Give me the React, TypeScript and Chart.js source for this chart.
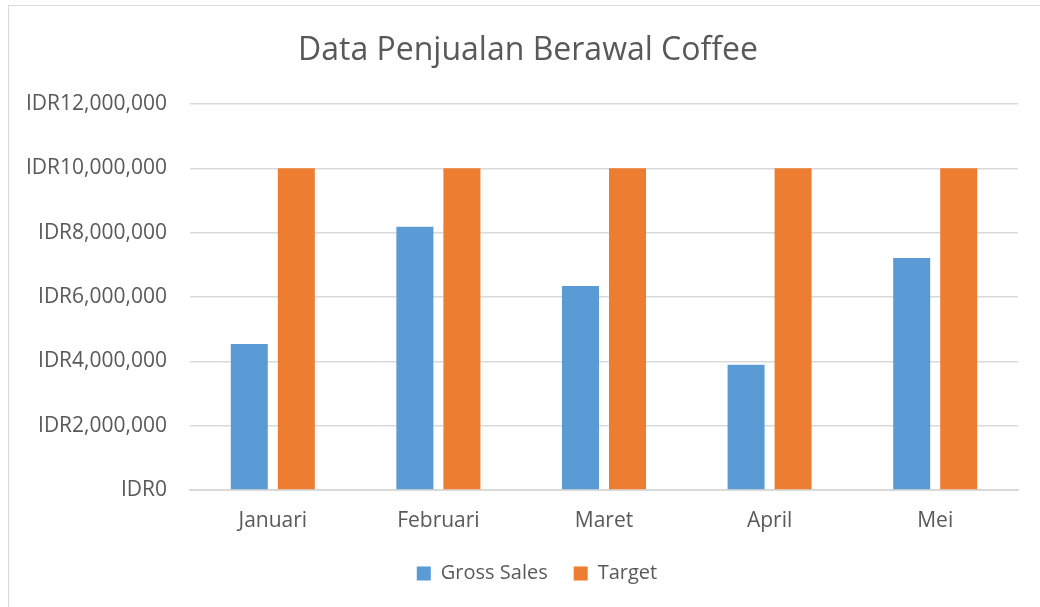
import React, { useEffect, useRef } from "react";
import { Chart, registerables } from "chart.js";

Chart.register(...registerables);

const categories = ["Januari", "Februari", "Maret", "April", "Mei"];
const grossSales = [4540000, 8180000, 6340000, 3890000, 7210000];
const target = [10000000, 10000000, 10000000, 10000000, 10000000];
const yTicks = [0, 2000000, 4000000, 6000000, 8000000, 10000000, 12000000];

const FONT = "'Open Sans', 'Noto Sans', sans-serif";
const TEXT = "#595959";
const GRID = "#d9d9d9";

function fmt(v: number): string {
  return "IDR" + v.toLocaleString("en-US");
}

// Centre the title and legend like the reference (offset from the canvas centre).
const shiftBoxes = {
  id: "shiftBoxes",
  afterLayout(chart: any) {
    if (chart.titleBlock) {
      chart.titleBlock.left = 38;
    }
    if (chart.legend) {
      chart.legend.left = 56;
    }
  },
};

export default function App() {
  const ref = useRef<HTMLCanvasElement | null>(null);

  useEffect(() => {
    if (!ref.current) return;
    const chart = new Chart(ref.current, {
      type: "bar",
      data: {
        labels: categories,
        datasets: [
          {
            label: "Gross Sales",
            data: grossSales,
            backgroundColor: "#5B9BD5",
            borderWidth: 0,
            barPercentage: 0.787,
            categoryPercentage: 0.568,
          },
          {
            label: "Target",
            data: target,
            backgroundColor: "#ED7D31",
            borderWidth: 0,
            barPercentage: 0.787,
            categoryPercentage: 0.568,
          },
        ],
      },
      options: {
        responsive: false,
        animation: false,
        layout: { padding: { left: 0, right: 22, top: 0, bottom: 13.5 } },
        plugins: {
          title: {
            display: true,
            text: "Data Penjualan Berawal Coffee",
            color: TEXT,
            font: { family: FONT, size: 32, weight: "normal" },
            padding: { top: 32, bottom: 33.5 },
          },
          legend: {
            position: "bottom",
            labels: {
              color: TEXT,
              font: { family: FONT, size: 20 },
              boxWidth: 14,
              boxHeight: 14,
              padding: 26,
            },
          },
          tooltip: { enabled: false },
        },
        scales: {
          x: {
            afterFit: (scale: any) => {
              scale.height = 47.5;
            },
            grid: { display: false, drawTicks: false },
            border: { display: true, color: GRID, width: 2 },
            ticks: {
              color: TEXT,
              font: { family: FONT, size: 21 },
              padding: 18,
            },
          },
          y: {
            min: 0,
            max: 12000000,
            afterBuildTicks: (scale: any) => {
              scale.ticks = yTicks.map((v) => ({ value: v }));
            },
            afterFit: (scale: any) => {
              scale.width = 190;
            },
            grid: { color: GRID, lineWidth: 1.5, drawTicks: false },
            border: { display: false },
            ticks: {
              color: TEXT,
              font: { family: FONT, size: 21 },
              padding: 23,
              callback: (v: any) => fmt(Number(v)),
            },
          },
        },
      } as any,
      plugins: [shiftBoxes],
    });
    return () => chart.destroy();
  }, []);

  return (
    <div style={{ position: "absolute", left: 0, top: 0, width: 1040, height: 607, overflow: "hidden", background: "#fff" }}>
      <div
        style={{
          position: "absolute",
          left: 8,
          top: 5,
          width: 1100,
          height: 700,
          border: "1px solid #d9d9d9",
        }}
      />
      <canvas ref={ref} width={1040} height={607} style={{ position: "absolute", left: 0, top: 0 }} />
    </div>
  );
}
